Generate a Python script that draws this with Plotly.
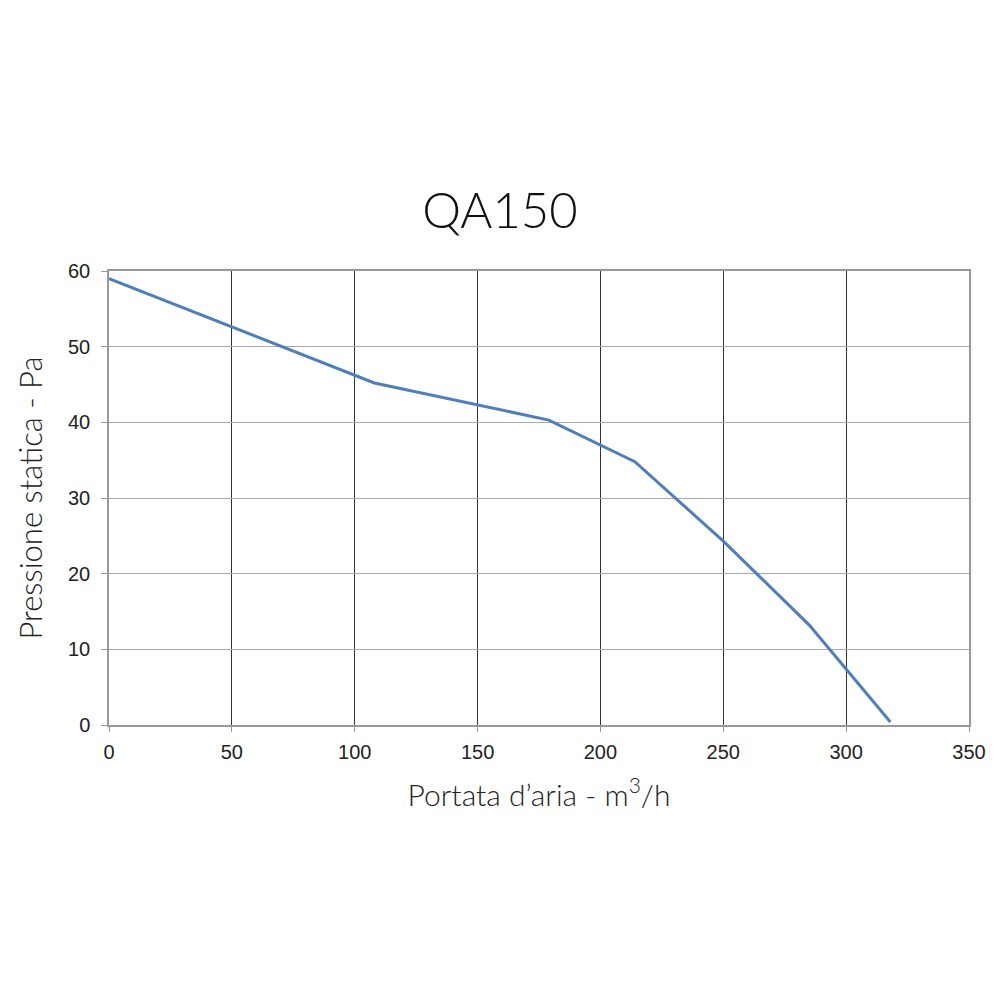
import plotly.graph_objects as go

portata = [0, 108, 179, 214, 250, 285, 318]
pressione = [59.0, 45.2, 40.3, 34.8, 24.3, 13.2, 0.4]

title_text = "QA150"
x_title = "Portata d’aria - m<sup>3</sup>/h"
y_title = "Pressione statica - Pa"

fig = go.Figure()
fig.add_trace(go.Scatter(x=portata, y=pressione, mode="lines",
                         line=dict(color="#4f7fba", width=3), showlegend=False))

L, R, T, B = 109, 31, 271, 275
fig.update_layout(
    width=1000, height=1000,
    margin=dict(l=L, r=R, t=T, b=B),
    paper_bgcolor="white", plot_bgcolor="white",
    font=dict(family="Lato, Liberation Sans, sans-serif", color="#111"),
    title=dict(text=title_text, x=0.5, xanchor="center", y=1 - 211/1000, yanchor="middle",
               font=dict(size=49, color="#111", family="Lato, Liberation Sans", weight=300)),
    xaxis=dict(range=[0, 350], tickvals=list(range(0, 351, 50)),
               showgrid=True, gridcolor="#333", gridwidth=1,
               showline=True, linecolor="#999", linewidth=1.5, mirror=True,
               zeroline=False, ticks="outside", ticklen=5, tickcolor="#999", tickwidth=1,
               ticklabelstandoff=3,
               tickfont=dict(size=20, color="#222", family="Liberation Sans"),
               title=dict(text=x_title, standoff=23,
                          font=dict(size=30, color="#222", family="Lato, Liberation Sans", weight=300))),
    yaxis=dict(range=[0, 60], tickvals=list(range(0, 61, 10)),
               showgrid=True, gridcolor="#aaa", gridwidth=1,
               showline=True, linecolor="#999", linewidth=1.5, mirror=True,
               zeroline=False, ticks="outside", ticklen=6, tickcolor="#999", tickwidth=1,
               ticklabelstandoff=7,
               tickfont=dict(size=20, color="#222", family="Liberation Sans"),
               title=dict(text=y_title, standoff=16,
                          font=dict(size=31, color="#222", family="Lato, Liberation Sans", weight=300))),
)
fig.write_html("out.html")
